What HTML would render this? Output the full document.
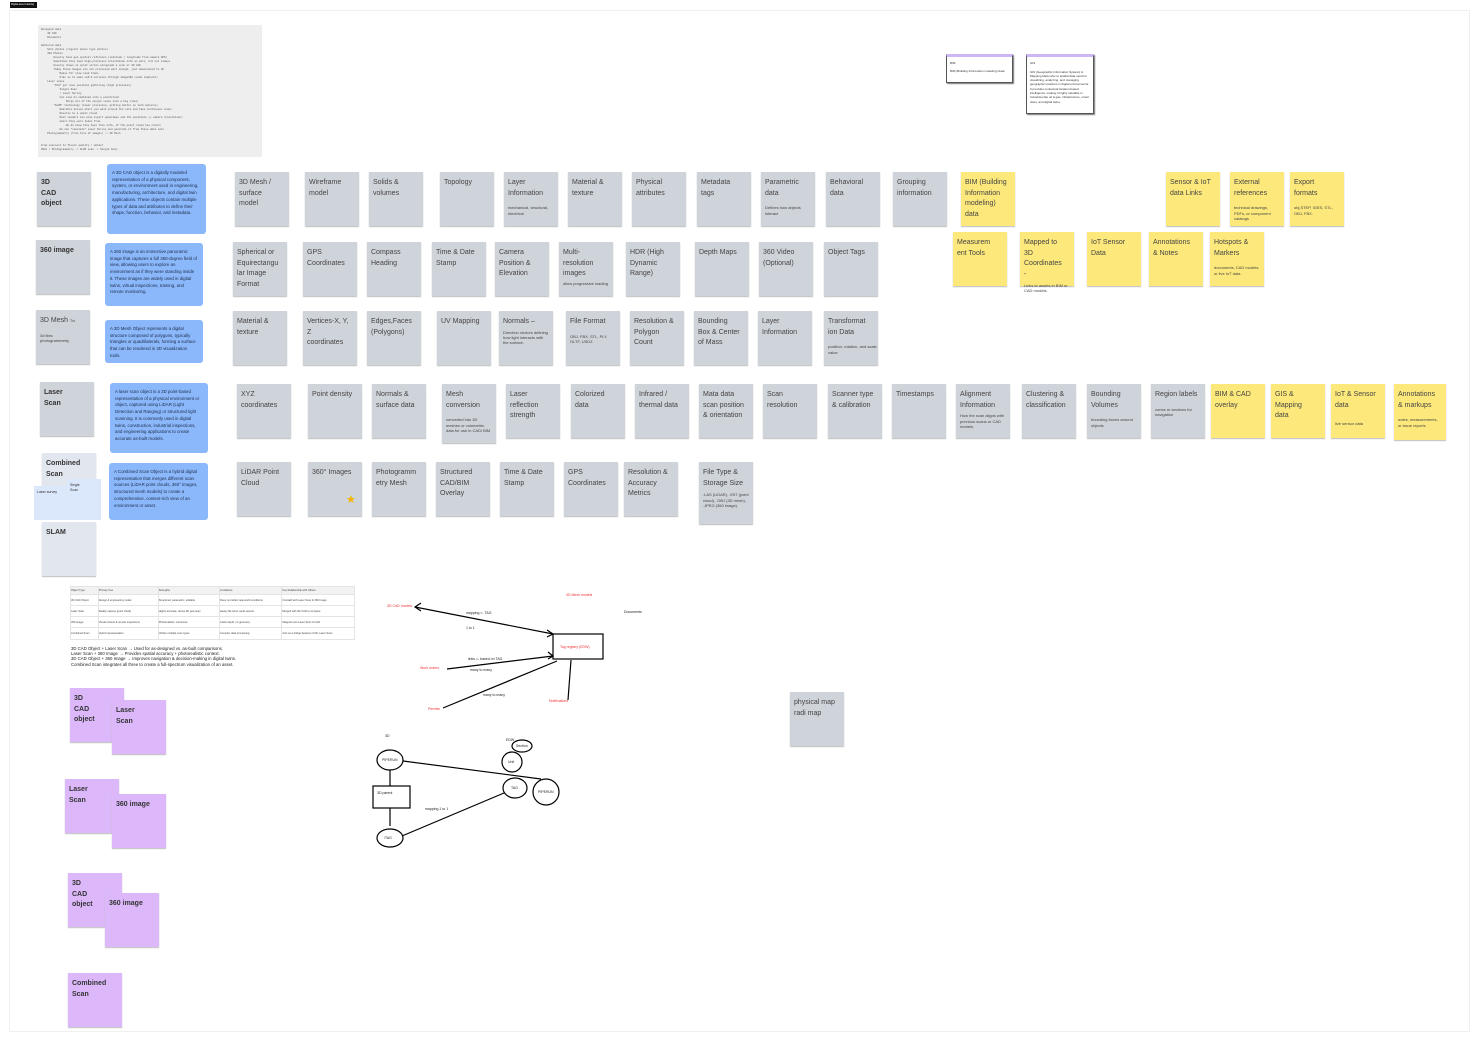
<!DOCTYPE html>
<html><head><meta charset="utf-8"><style>
*{box-sizing:border-box;margin:0;padding:0}
body{width:1480px;height:1042px;background:#fff;position:relative;overflow:hidden;font-family:"Liberation Sans",sans-serif;color:#333}
.a{position:absolute}
.g{position:absolute;width:54px;height:54px;background:#cfd3da;box-shadow:0 1px 1px #bbb;padding:6px 8px 6px 4px;font-size:7px;line-height:10.7px;color:#444}
.y{background:#fde97b;color:#444}
.p{background:#dcb8fb;color:#333}
.s{display:block;font-size:4px;line-height:5.3px;margin-top:6px;margin-right:-4px}
.b{position:absolute;background:#8bb8fb;border-radius:3px;padding:6px 5px;font-size:4.4px;line-height:6.7px;color:#1d2b48}
.t{position:absolute;font-size:3.5px;white-space:nowrap}
</style></head><body>
<div class="a" style="left:9px;top:10px;width:1461px;height:1022px;border:1px solid #f0f0f0"></div>
<div class="a" style="left:10px;top:2px;width:27px;height:6px;background:#111;color:#fff;font-size:2.5px;padding:1px">Digital asset tracking</div>
<div class="a" style="left:38px;top:25px;width:224px;height:132px;background:#eee;font-family:'Liberation Mono',monospace;font-size:2.6px;line-height:4px;color:#555;padding:3px;white-space:pre">Designed data
    3D CAD
    Documents

Gathered data
    Site photos (regular phone type photos)
    360 Photos
        Usually have geo spatial reference (latitude / longitude from camera GPS)
        Sometimes they have high-precision orientation info as well, but not always
        Usually shown in split screen alongside a scan or 3D CAD
        Today these images are not processed well enough, just downscaled to 4K
            Makes for slow load times
            Plan is to make LoD'd versions through Image360 (code complete)
    Laser scans
        "Old" per scan position gathering (high precision)
            Single Scan
            / Laser Survey
            Can also be combined into a pointcloud
                Merge all of the single scans into a big cloud
        "SLAM" technology (lower precision, getting better as tech matures)
            Wearable device where you walk around the site and take continuous scans
            Results in a point cloud
            Most vendors can also export panoramas and the positions (+ camera orientation)
            where they were taken from
                We do know they have this info, if the point cloud has colors
            We can "simulate" Laser Survey and generate it from these data sets
    Photogrammetry (from tons of images) -> 3D Mesh


From coarsest to finest quality / detail
360s / Photogrammetry -> SLAM scan -> Single Scan</div>

<!-- left column -->
<div class="g" style="left:37px;top:172px;font-weight:bold;color:#333">3D<br>CAD<br>object</div>
<div class="g" style="left:36px;top:240px;font-weight:bold;color:#333;padding-right:2px">360 image</div>
<div class="g" style="left:36px;top:310px;padding-right:2px">3D Mesh <span style="font-size:3.5px">Txt</span><span class="s">3d tiles<br>photogrammetry</span></div>
<div class="g" style="left:40px;top:382px;font-weight:bold;color:#333">Laser<br>Scan</div>
<div class="g" style="left:42px;top:453px;background:#e2e6ef;font-weight:bold;color:#333;padding-right:2px">Combined<br>Scan</div>
<div class="a" style="left:67px;top:479px;width:34px;height:41px;background:#dbe7fb;font-size:3.5px;padding:4px 3px;line-height:5px">Single<br>Scan</div>
<div class="a" style="left:34px;top:486px;width:34px;height:34px;background:#dbe7fb;font-size:3.5px;padding:4px 3px">Laser survey</div>
<div class="g" style="left:42px;top:522px;background:#e2e6ef;font-weight:bold;color:#333">SLAM</div>

<div class="b" style="left:107px;top:164px;width:99px;height:70px">A 3D CAD object is a digitally modeled representation of a physical component, system, or environment used in engineering, manufacturing, architecture, and digital twin applications. These objects contain multiple types of data and attributes to define their shape, function, behavior, and metadata.</div>
<div class="b" style="left:105px;top:243px;width:98px;height:63px">A 360 image is an immersive panoramic image that captures a full 360-degree field of view, allowing users to explore an environment as if they were standing inside it. These images are widely used in digital twins, virtual inspections, training, and remote monitoring.</div>
<div class="b" style="left:105px;top:320px;width:98px;height:43px">A 3D Mesh Object represents a digital structure composed of polygons, typically triangles or quadrilaterals, forming a surface that can be rendered in 3D visualization tools.</div>
<div class="b" style="left:110px;top:383px;width:98px;height:70px">A laser scan object is a 3D point-based representation of a physical environment or object, captured using LiDAR (Light Detection and Ranging) or structured light scanning. It is commonly used in digital twins, construction, industrial inspections, and engineering applications to create accurate as-built models.</div>
<div class="b" style="left:109px;top:463px;width:99px;height:57px">A Combined Scan Object is a hybrid digital representation that merges different scan sources (LiDAR point clouds, 360° images, structured mesh models) to create a comprehensive, context-rich view of an environment or asset.</div>

<!-- row 1 -->
<div class="g" style="left:235px;top:172px">3D Mesh / surface model</div>
<div class="g" style="left:305px;top:172px">Wireframe model</div>
<div class="g" style="left:369px;top:172px">Solids &amp; volumes</div>
<div class="g" style="left:440px;top:172px">Topology</div>
<div class="g" style="left:504px;top:172px">Layer Information<span class="s">mechanical, structural, electrical</span></div>
<div class="g" style="left:568px;top:172px">Material &amp; texture</div>
<div class="g" style="left:632px;top:172px">Physical attributes</div>
<div class="g" style="left:697px;top:172px">Metadata tags</div>
<div class="g" style="left:761px;top:172px">Parametric data<span class="s">Defines how objects interact</span></div>
<div class="g" style="left:826px;top:172px">Behavioral data</div>
<div class="g" style="left:893px;top:172px">Grouping information</div>
<div class="g y" style="left:961px;top:172px">BIM (Building Information modeling) data</div>
<div class="g y" style="left:1166px;top:172px">Sensor &amp; IoT data Links</div>
<div class="g y" style="left:1230px;top:172px">External references<span class="s">technical drawings, PDFs, or component catalogs</span></div>
<div class="g y" style="left:1290px;top:172px">Export formats<span class="s">obj,STEP, IGES, STL, OBJ, FBX.</span></div>

<!-- row 2 -->
<div class="g" style="left:233px;top:242px;padding-right:2px">Spherical or Equirectangu lar Image Format</div>
<div class="g" style="left:303px;top:242px">GPS Coordinates</div>
<div class="g" style="left:367px;top:242px">Compass Heading</div>
<div class="g" style="left:432px;top:242px">Time &amp; Date Stamp</div>
<div class="g" style="left:495px;top:242px">Camera Position &amp; Elevation</div>
<div class="g" style="left:559px;top:242px">Multi-resolution images<span class="s" style="margin-top:1px">allow progressive loading</span></div>
<div class="g" style="left:626px;top:242px">HDR (High Dynamic Range)</div>
<div class="g" style="left:695px;top:242px">Depth Maps</div>
<div class="g" style="left:759px;top:242px">360 Video (Optional)</div>
<div class="g" style="left:824px;top:242px">Object Tags</div>
<div class="g y" style="left:953px;top:232px">Measurem ent Tools</div>
<div class="g y" style="left:1020px;top:232px">Mapped to 3D Coordinates -<span class="s" style="margin-top:2px">Links to assets in BIM or CAD models.</span></div>
<div class="g y" style="left:1087px;top:232px">IoT Sensor Data</div>
<div class="g y" style="left:1149px;top:232px">Annotations &amp; Notes</div>
<div class="g y" style="left:1210px;top:232px">Hotspots &amp; Markers<span class="s">documents, CAD models, or live IoT data.</span></div>

<!-- row 3 -->
<div class="g" style="left:233px;top:311px">Material &amp; texture</div>
<div class="g" style="left:303px;top:311px">Vertices-X, Y, Z coordinates</div>
<div class="g" style="left:367px;top:311px">Edges,Faces (Polygons)</div>
<div class="g" style="left:437px;top:311px;padding-right:2px">UV Mapping</div>
<div class="g" style="left:499px;top:311px">Normals –<span class="s" style="margin-top:2px">Direction vectors defining how light interacts with the surface.</span></div>
<div class="g" style="left:566px;top:311px">File Format<span class="s">OBJ, FBX, STL, PLY, GLTF, USDZ</span></div>
<div class="g" style="left:630px;top:311px">Resolution &amp; Polygon Count</div>
<div class="g" style="left:694px;top:311px">Bounding Box &amp; Center of Mass</div>
<div class="g" style="left:758px;top:311px">Layer Information</div>
<div class="g" style="left:824px;top:311px;padding-right:2px">Transformat ion Data<span class="s">position, rotation, and scale value</span></div>

<!-- row 4 -->
<div class="g" style="left:237px;top:384px">XYZ coordinates</div>
<div class="g" style="left:308px;top:384px;padding-right:2px">Point density</div>
<div class="g" style="left:372px;top:384px">Normals &amp; surface data</div>
<div class="g" style="left:442px;top:384px;height:59px">Mesh conversion<span class="s">converted into 3D meshes or volumetric data for use in CAD/ BIM</span></div>
<div class="g" style="left:506px;top:384px">Laser reflection strength</div>
<div class="g" style="left:571px;top:384px">Colorized data</div>
<div class="g" style="left:635px;top:384px">Infrared / thermal data</div>
<div class="g" style="left:699px;top:384px">Mata data scan position &amp; orientation</div>
<div class="g" style="left:763px;top:384px">Scan resolution</div>
<div class="g" style="left:828px;top:384px">Scanner type &amp; calibration</div>
<div class="g" style="left:892px;top:384px;padding-right:2px">Timestamps</div>
<div class="g" style="left:956px;top:384px">Alignment Information<span class="s" style="margin-top:2px">How the scan aligns with previous scans or CAD models.</span></div>
<div class="g" style="left:1022px;top:384px">Clustering &amp; classification</div>
<div class="g" style="left:1087px;top:384px">Bounding Volumes<span class="s">bounding boxes around objects</span></div>
<div class="g" style="left:1151px;top:384px;padding-right:2px">Region labels<span class="s">zones or sections for navigation</span></div>
<div class="g y" style="left:1211px;top:384px">BIM &amp; CAD overlay</div>
<div class="g y" style="left:1271px;top:384px">GIS &amp; Mapping data</div>
<div class="g y" style="left:1331px;top:384px">IoT &amp; Sensor data<span class="s" style="margin-top:10px">live sensor data</span></div>
<div class="g y" style="left:1394px;top:384px;width:52px;height:56px">Annotations &amp; markups<span class="s">notes, measurements, or issue reports</span></div>

<!-- row 5 -->
<div class="g" style="left:237px;top:462px">LiDAR Point Cloud</div>
<div class="g" style="left:308px;top:462px;padding-right:2px">360° Images<span style="position:absolute;left:38px;top:33px;color:#f5b400;font-size:11px">★</span></div>
<div class="g" style="left:372px;top:462px;padding-right:2px">Photogramm etry Mesh</div>
<div class="g" style="left:436px;top:462px">Structured CAD/BIM Overlay</div>
<div class="g" style="left:500px;top:462px">Time &amp; Date Stamp</div>
<div class="g" style="left:564px;top:462px">GPS Coordinates</div>
<div class="g" style="left:624px;top:462px">Resolution &amp; Accuracy Metrics</div>
<div class="g" style="left:699px;top:462px;height:62px">File Type &amp; Storage Size<span class="s" style="margin-top:3px">.LAS (LiDAR), .E57 (point cloud), .OBJ (3D mesh), .JPEG (360 image).</span></div>

<!-- BIM/GIS cards -->
<div class="a" style="left:946px;top:54px;width:67px;height:29px;background:#fff;border:1px solid #555;border-top:3px solid #cdb6f5;box-shadow:1px 1px 1px #777;font-size:3px;padding:4px 3px;line-height:4px">BIM<br><br>BIM (Building Information modeling) data</div>
<div class="a" style="left:1026px;top:54px;width:68px;height:60px;background:#fff;border:1px solid #555;border-top:3px solid #cdb6f5;box-shadow:1px 1px 1px #777;font-size:3px;padding:4px 3px;line-height:4.3px">GIS<br><br>GIS (Geographic Information System) &amp; Mapping Data refer to spatial data used for visualizing, analyzing, and managing geographic locations in digital environments. It provides contextual location-based intelligence, making it highly valuable in industries like oil &amp; gas, infrastructure, smart cities, and digital twins.</div>

<!-- table -->
<div class="a" style="left:70px;top:586px;width:285px;height:54px;font-size:2.6px;color:#444">
<table style="border-collapse:collapse;width:100%;font-size:2.6px">
<tr style="background:#f2f2f2;height:8px"><td style="border:1px solid #e4e4e4">Object Type</td><td style="border:1px solid #e4e4e4">Primary Use</td><td style="border:1px solid #e4e4e4">Strengths</td><td style="border:1px solid #e4e4e4">Limitations</td><td style="border:1px solid #e4e4e4">Key Relationship with Others</td></tr>
<tr style="height:11px"><td style="border:1px solid #e4e4e4">3D CAD Object</td><td style="border:1px solid #e4e4e4">Design &amp; engineering model</td><td style="border:1px solid #e4e4e4">Structured, parametric, editable</td><td style="border:1px solid #e4e4e4">Does not reflect real-world conditions</td><td style="border:1px solid #e4e4e4">Overlaid with Laser Scan &amp; 360 Image</td></tr>
<tr style="height:11px"><td style="border:1px solid #e4e4e4">Laser Scan</td><td style="border:1px solid #e4e4e4">Reality capture (point cloud)</td><td style="border:1px solid #e4e4e4">Highly accurate, dense 3D geometry</td><td style="border:1px solid #e4e4e4">Heavy file sizes, lacks texture</td><td style="border:1px solid #e4e4e4">Merged with 3D CAD to compare</td></tr>
<tr style="height:11px"><td style="border:1px solid #e4e4e4">360 Image</td><td style="border:1px solid #e4e4e4">Visual context &amp; remote inspections</td><td style="border:1px solid #e4e4e4">Photorealistic, immersive</td><td style="border:1px solid #e4e4e4">Lacks depth, no geometry</td><td style="border:1px solid #e4e4e4">Mapped onto Laser Scan &amp; CAD</td></tr>
<tr style="height:12px"><td style="border:1px solid #e4e4e4">Combined Scan</td><td style="border:1px solid #e4e4e4">Hybrid representation</td><td style="border:1px solid #e4e4e4">Unifies multiple scan types</td><td style="border:1px solid #e4e4e4">Complex data processing</td><td style="border:1px solid #e4e4e4">Acts as a bridge between CAD, Laser Scan</td></tr>
</table></div>
<div class="a" style="left:71px;top:646px;font-size:4.3px;line-height:5.2px;color:#222;white-space:nowrap">3D CAD Object + Laser Scan → Used for as-designed vs. as-built comparisons.<br>Laser Scan + 360 Image → Provides spatial accuracy + photorealistic context.<br>3D CAD Object + 360 Image → Improves navigation &amp; decision-making in digital twins.<br>Combined Scan integrates all three to create a full-spectrum visualization of an asset.</div>

<!-- purple -->
<div class="g p" style="left:70px;top:688px;font-weight:bold">3D<br>CAD<br>object</div>
<div class="g p" style="left:112px;top:700px;font-weight:bold">Laser<br>Scan</div>
<div class="g p" style="left:65px;top:779px;font-weight:bold">Laser<br>Scan</div>
<div class="g p" style="left:112px;top:794px;font-weight:bold;padding-right:2px">360 image</div>
<div class="g p" style="left:68px;top:873px;font-weight:bold">3D<br>CAD<br>object</div>
<div class="g p" style="left:105px;top:893px;font-weight:bold;padding-right:2px">360 image</div>
<div class="g p" style="left:68px;top:973px;font-weight:bold;padding-right:2px">Combined<br>Scan</div>

<div class="g" style="left:790px;top:692px;padding-right:2px">physical map radi map</div>

<!-- diagram -->
<svg class="a" style="left:0;top:0" width="1480" height="1042" font-family="Liberation Sans" font-size="3.5">
<g stroke="#000" stroke-width="1.2" fill="none">
<line x1="415" y1="607" x2="553" y2="634"/>
<polyline points="421,603 415,607 421,611"/>
<polyline points="547,630 553,634 547,637"/>
<rect x="553" y="634" width="50" height="25"/>
<line x1="447" y1="669" x2="553" y2="656"/>
<polyline points="548,652 553,656 548,659"/>
<line x1="443" y1="708" x2="557" y2="661"/>
<line x1="571" y1="660" x2="568" y2="700"/>
<ellipse cx="390" cy="760" rx="13" ry="10"/>
<rect x="373" y="786" width="37" height="22"/>
<line x1="390" y1="770" x2="390" y2="786"/>
<line x1="390" y1="808" x2="390" y2="826"/>
<ellipse cx="390" cy="838" rx="13" ry="9"/>
<line x1="403" y1="761" x2="541" y2="779"/>
<circle cx="546" cy="792" r="13"/>
<ellipse cx="515" cy="788" rx="12" ry="10"/>
<line x1="402" y1="836" x2="504" y2="793"/>
<ellipse cx="522" cy="746" rx="10" ry="6"/>
<circle cx="512" cy="762" r="10"/>
</g>
<g fill="#e33">
<text x="387" y="607">3D CAD models</text>
<text x="566" y="596">3D Mesh models</text>
<text x="560" y="648">Tag registry (EDW)</text>
<text x="420" y="669">Work orders</text>
<text x="428" y="710">Permits</text>
<text x="549" y="702">Notifications</text>
</g>
<g fill="#222">
<text x="624" y="613">Documents</text>
<text x="466" y="614">mapping &lt;- TAG</text>
<text x="466" y="629">1 to 1</text>
<text x="468" y="660">links &lt;- based on TAG</text>
<text x="470" y="671">many to many</text>
<text x="483" y="696">many to many</text>
<text x="385" y="737">3D</text>
<text x="382" y="761">PIPERUN</text>
<text x="377" y="794">3D parent</text>
<text x="384" y="839">/TAG</text>
<text x="538" y="793">PIPERUN</text>
<text x="511" y="789">TAG</text>
<text x="425" y="810">mapping 1 to 1</text>
<text x="506" y="741">EDW</text>
<text x="516" y="747">Section</text>
<text x="508" y="763">Unit</text>
</g>
</svg>
</body></html>
